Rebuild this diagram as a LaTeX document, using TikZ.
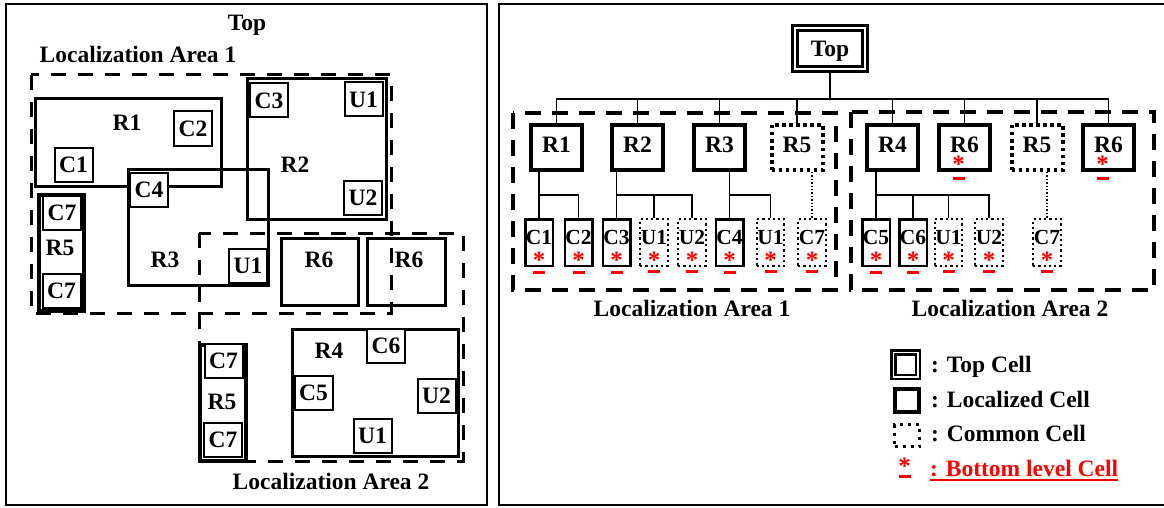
\documentclass[tikz,border=0pt]{standalone}
\usepackage{fontspec}
\setmainfont{Liberation Serif}

\newcommand{\lbl}{\fontsize{23.5}{24}\selectfont\bfseries}
\newcommand{\leaflbl}{\fontsize{21.5}{22}\selectfont\bfseries}
\newcommand{\starlbl}{\fontsize{25}{25}\selectfont\bfseries}

\tikzset{
  every node/.style={font=\lbl},
  area/.style={line width=3pt, dash pattern=on 15pt off 12pt},
  bigarea/.style={line width=4pt, dash pattern=on 16pt off 11pt},
  region/.style={line width=3pt},
  cell/.style={draw, fill=white, line width=2pt, inner sep=0pt, minimum width=38pt, minimum height=34pt},
  rbox/.style={draw, line width=4pt, inner sep=0pt, minimum width=51pt, minimum height=45pt, text height=9.9pt, text depth=0pt},
  common/.style={dash pattern=on 3.5pt off 3.5pt},
  leaf/.style={draw, line width=2.5pt, inner sep=0pt, minimum width=27.5pt, minimum height=46.5pt, font=\leaflbl, text height=3.5pt, text depth=0pt},
  dotleaf/.style={leaf, line width=2.2pt, dash pattern=on 2.2pt off 3pt},
  link/.style={line width=1.6pt},
  dotlink/.style={line width=1.4pt, dash pattern=on 1.4pt off 2pt},
  redstar/.style={red, inner sep=0pt, font=\starlbl},
  keytext/.style={anchor=base west, inner sep=0pt}
}

\begin{document}
\begin{tikzpicture}[x=1pt, y=-1pt]
  \useasboundingbox (0,0) rectangle (1164,508);
  \draw [line width=2.5pt] (6,4) rectangle (487,505);
  \draw [line width=2.5pt] (499,4) rectangle (1172,505);

  \node (ltop) [anchor=base] at (247,31) {Top};
  \node (la1) [anchor=base] at (138,63) {Localization Area 1};
  \node (la2) [anchor=base] at (331,489) {Localization Area 2};

  \draw [area] (31,75) rectangle (391,313);
  \draw [area] (199,233) rectangle (463,461);

  \draw [region] (35.5,98.5) rectangle (221.5,186.5);
  \draw [region] (247.5,78.5) rectangle (386.5,219.5);
  \draw [region] (128.5,169.5) rectangle (268.5,285.5);
  \draw [region, line width=4pt] (39,195) rectangle (84,311);
  \draw [region] (281.5,238.5) rectangle (358.5,305.5);
  \draw [region] (367.5,238.5) rectangle (445.5,305.5);
  \draw [region] (292.5,329.5) rectangle (458.5,456.5);
  \draw [region, line width=4pt] (200,345) rectangle (246,461);

  \node (lr1) at (127,123) {R1};
  \node (lr2) at (295,165) {R2};
  \node (lr3) at (165,260) {R3};
  \node (lr5a) at (60,248) {R5};
  \node (lr6a) at (319,260) {R6};
  \node (lr6b) at (409,260) {R6};
  \node (lr4) at (329,351) {R4};
  \node (lr5b) at (222,402) {R5};

  \node [cell] (lc1) at (73.5,164.5) {C1};
  \node [cell] (lc2) at (193,128.5) {C2};
  \node [cell] (lc3) at (269,100.5) {C3};
  \node [cell] (lu1a) at (363.5,99.5) {U1};
  \node [cell] (lu2a) at (363,197.5) {U2};
  \node [cell] (lc4) at (149,189.5) {C4};
  \node [cell] (lu1b) at (248,266) {U1};
  \node [cell] (lc7a) at (62,213) {C7};
  \node [cell] (lc7b) at (61.5,290.5) {C7};
  \node [cell] (lc6) at (386,346) {C6};
  \node [cell] (lc5) at (313.5,392.5) {C5};
  \node [cell] (lu2b) at (436.5,395.5) {U2};
  \node [cell] (lu1c) at (372.5,436) {U1};
  \node [cell] (lc7c) at (223.5,361) {C7};
  \node [cell] (lc7d) at (223,439.5) {C7};

  \draw [bigarea] (513,113) rectangle (836,290);
  \draw [bigarea] (851,112) rectangle (1154,290);
  \node (ra1) [anchor=base] at (692,316) {Localization Area 1};
  \node (ra2) [anchor=base] at (1010,316) {Localization Area 2};

  \node [draw, double, line width=2.8pt, double distance=1.8pt, inner sep=0pt,
    minimum width=70pt, minimum height=41pt, text depth=0pt] (top) at (830,48.5) {Top};

  \node [rbox] (r1) at (556.5,147.5) {R1};
  \node [rbox] (r2) at (637.5,147.5) {R2};
  \node [rbox] (r3) at (719.5,147.5) {R3};
  \node [rbox, common] (r5a) at (797,147.5) {R5};
  \node [rbox] (r4) at (892.5,147.5) {R4};
  \node [rbox] (r6a) at (964.5,147.5) {R6};
  \node [rbox, common] (r5b) at (1037,147.5) {R5};
  \node [rbox] (r6b) at (1108.5,147.5) {R6};

  \coordinate (bus) at (830,99);
  \draw [link] (top) -- (bus);
  \foreach \r in {r1,r2,r3,r5a,r4,r6a,r5b,r6b}
    \draw [link] (\r.north) |- (bus);

  \node [leaf] (c1) at (539,242.5) {C1};
  \node [leaf] (c2) at (578.5,242.5) {C2};
  \node [leaf] (c3) at (616.5,242.5) {C3};
  \node [dotleaf] (u1a) at (654,242.5) {U1};
  \node [dotleaf] (u2a) at (692,242.5) {U2};
  \node [leaf] (c4) at (729.5,242.5) {C4};
  \node [dotleaf] (u1b) at (770.5,242.5) {U1};
  \node [dotleaf] (c7a) at (812,242.5) {C7};
  \node [leaf] (c5) at (876,242.5) {C5};
  \node [leaf] (c6) at (913,242.5) {C6};
  \node [dotleaf] (u1c) at (948.5,242.5) {U1};
  \node [dotleaf] (u2b) at (989,242.5) {U2};
  \node [dotleaf] (c7b) at (1047,242.5) {C7};

  \draw [link] (r1.south -| c1.north) -- (c1.north);
  \draw [link] (c1.north) ++(0,-23) -| (c2.north);
  \draw [link] (r2.south -| c3.north) -- (c3.north);
  \foreach \x in {u1a,u2a}
    \draw [link] (c3.north) ++(0,-23) -| (\x.north);
  \draw [link] (r3.south -| c4.north) -- (c4.north);
  \draw [link] (c4.north) ++(0,-23) -| (u1b.north);
  \draw [dotlink] (r5a.south -| c7a.north) -- (c7a.north);
  \draw [link] (r4.south -| c5.north) -- (c5.north);
  \foreach \x in {c6,u1c,u2b}
    \draw [link] (c5.north) ++(0,-23) -| (\x.north);
  \draw [dotlink] (r5b.south -| c7b.north) -- (c7b.north);

  \foreach \x in {c1,c2,c3,u1a,u2a,c4,u1b,c7a,c5,c6,u1c,u2b,c7b} {
    \node [redstar] (\x-s) at ([yshift=-17.7pt]\x.center) {*};
    \fill [red] ([xshift=-6pt,yshift=-3.5pt]\x.south) rectangle ([xshift=6pt,yshift=-6.5pt]\x.south);
  }
  \foreach \x in {r6a,r6b} {
    \node [redstar] (\x-s) at ([xshift=-6pt,yshift=-17.2pt]\x.center) {*};
    \fill [red] ([xshift=-12pt,yshift=-4.5pt]\x.south) rectangle ([xshift=0pt,yshift=-7.5pt]\x.south);
  }

  \node [draw, double, line width=2.5pt, double distance=1.5pt, inner sep=0pt, minimum size=24.5pt] (ktop) at (905.5,364.5) {};
  \node [draw, line width=4pt, inner sep=0pt, minimum width=24pt, minimum height=23pt] (kloc) at (907,400.5) {};
  \node [draw, line width=3pt, dash pattern=on 3pt off 5pt, inner sep=0pt, minimum width=25pt, minimum height=22pt] (kcom) at (907,435.5) {};
  \node [redstar] (kbot) at (904.5,466.2) {*};
  \fill [red] ([xshift=-6pt]kbot.south) rectangle ([xshift=6pt,yshift=-3pt]kbot.south);

  \node [keytext] (ktopt) at (931,372.5) {: Top Cell};
  \node [keytext] (kloct) at (931,407) {: Localized Cell};
  \node [keytext] (kcomt) at (931,441) {: Common Cell};
  \node [keytext, red] (kbott) at (930,476.5) {: Bottom level Cell};
  \draw [red, line width=2.5pt] ([yshift=-3.5pt]kbott.base west) -- ([yshift=-3.5pt]kbott.base east);
\end{tikzpicture}
\end{document}
